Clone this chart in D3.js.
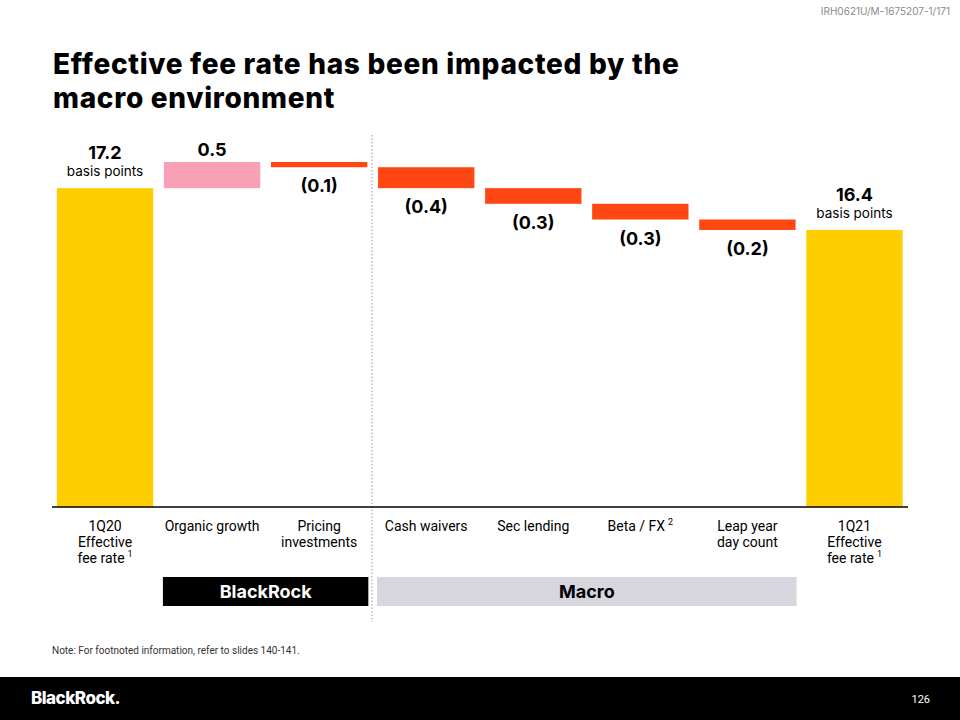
<!DOCTYPE html>
<html>
<head>
<meta charset="utf-8">
<script src="https://cdn.jsdelivr.net/npm/d3@7"></script>
<style>
  body { margin: 0; background: #fff; }
  svg { display: block; }
</style>
</head>
<body>
<div id="chart"></div>
<script>
// waterfall data
var categories = [
  ["1Q20", "Effective", "fee rate"],
  ["Organic growth"],
  ["Pricing", "investments"],
  ["Cash waivers"],
  ["Sec lending"],
  ["Beta / FX"],
  ["Leap year", "day count"],
  ["1Q21", "Effective", "fee rate"]
];
var footnotes = ["1", "", "", "", "", "2", "", "1"];
var values = [17.2, 0.5, -0.1, -0.4, -0.3, -0.3, -0.2, 16.4];
var kinds = ["total", "up", "down", "down", "down", "down", "down", "total"];
var valueLabels = ["17.2", "0.5", "(0.1)", "(0.4)", "(0.3)", "(0.3)", "(0.2)", "16.4"];
var groups = ["BlackRock", "Macro"];
var groupSpan = [[1, 2], [3, 6]];

var svgWidth = 960, svgHeight = 720;
var baseY = 507;

var colors = { total: "#FFCE00", up: "#F9A0B7", down: "#FF4713" };

var svg = d3.select("#chart").append("svg")
  .attr("width", svgWidth)
  .attr("height", svgHeight);

// running totals
var bars = [];
var running = 0;
values.forEach(function(v, i) {
  if (kinds[i] == "total") {
    bars.push({ i: i, y0: 11.1, y1: v });
    running = v;
  } else {
    bars.push({ i: i, y0: running, y1: running + v });
    running = running + v;
  }
});

var x = d3.scaleBand()
  .domain(d3.range(categories.length))
  .range([51.5, 908])
  .paddingInner(0.1)
  .paddingOuter(0.05);

var y = d3.scaleLinear()
  .domain([11.1, 17.7])
  .range([baseY, 162]);

var font = "Inter, 'Noto Sans', sans-serif";
var narrow = "'Liberation Sans Narrow', 'Roboto', sans-serif";

// header code
svg.append("text")
  .attr("x", 950).attr("y", 15)
  .attr("text-anchor", "end")
  .attr("font-family", font)
  .attr("font-size", 10)
  .attr("fill", "#8a8a8a")
  .text("IRH0621U/M-1675207-1/171");

// title
var title = svg.append("text")
  .attr("font-family", font)
  .attr("font-weight", 800)
  .attr("font-size", 28)
  .attr("letter-spacing", 0.7)
  .attr("fill", "#000");
title.append("tspan").attr("x", 53).attr("y", 74).text("Effective fee rate has been impacted by the");
title.append("tspan").attr("x", 53).attr("y", 108).text("macro environment");

// divider
svg.append("line")
  .attr("x1", 372).attr("x2", 372)
  .attr("y1", 135).attr("y2", 622)
  .attr("stroke", "#999")
  .attr("stroke-width", 1)
  .attr("stroke-dasharray", "1.5,2");

// bars
svg.selectAll("rect.bar")
  .data(bars)
  .enter().append("rect")
  .attr("class", "bar")
  .attr("x", function(d) { return x(d.i); })
  .attr("width", x.bandwidth())
  .attr("y", function(d) { return y(Math.max(d.y0, d.y1)); })
  .attr("height", function(d) { return Math.abs(y(d.y0) - y(d.y1)); })
  .attr("fill", function(d) { return colors[kinds[d.i]]; });

// baseline
svg.append("line")
  .attr("x1", 52).attr("x2", 908)
  .attr("y1", baseY).attr("y2", baseY)
  .attr("stroke", "#000")
  .attr("stroke-width", 1.5);

// value labels
bars.forEach(function(d) {
  var cx = x(d.i) + x.bandwidth() / 2;
  var top = y(Math.max(d.y0, d.y1));
  var bottom = y(Math.min(d.y0, d.y1));
  var k = kinds[d.i];
  if (k == "total") {
    svg.append("text")
      .attr("x", cx).attr("y", top - 29)
      .attr("text-anchor", "middle")
      .attr("font-family", font).attr("font-weight", 700).attr("font-size", 18)
      .text(valueLabels[d.i]);
    svg.append("text")
      .attr("x", cx).attr("y", top - 12)
      .attr("text-anchor", "middle")
      .attr("font-family", font).attr("font-size", 13.5)
      .text("basis points");
  } else if (k == "up") {
    svg.append("text")
      .attr("x", cx).attr("y", top - 6)
      .attr("text-anchor", "middle")
      .attr("font-family", font).attr("font-weight", 700).attr("font-size", 18)
      .text(valueLabels[d.i]);
  } else {
    svg.append("text")
      .attr("x", cx).attr("y", bottom + 25)
      .attr("text-anchor", "middle")
      .attr("font-family", font).attr("font-weight", 700).attr("font-size", 18)
      .text(valueLabels[d.i]);
  }
});

// category labels
categories.forEach(function(lines, i) {
  var cx = x(i) + x.bandwidth() / 2;
  var t = svg.append("text")
    .attr("text-anchor", "middle")
    .attr("font-family", narrow)
    .attr("font-size", 14)
    .attr("fill", "#000");
  lines.forEach(function(l, j) {
    var ts = t.append("tspan").attr("x", cx).attr("y", 531 + j * 16).text(l);
    if (j == lines.length - 1 && footnotes[i]) {
      ts.append("tspan").attr("dx", 3).attr("dy", -6).attr("font-size", 9).text(footnotes[i]);
    }
  });
});

// group boxes
var groupFill = ["#000", "#D7D6DE"];
var groupText = ["#fff", "#000"];
groups.forEach(function(g, i) {
  var x0 = x(groupSpan[i][0]) - 1;
  var x1 = x(groupSpan[i][1]) + x.bandwidth() + 1;
  svg.append("rect")
    .attr("x", x0).attr("y", 577)
    .attr("width", x1 - x0).attr("height", 29)
    .attr("fill", groupFill[i]);
  svg.append("text")
    .attr("x", (x0 + x1) / 2).attr("y", 598)
    .attr("text-anchor", "middle")
    .attr("font-family", font).attr("font-weight", 700).attr("font-size", 18)
    .attr("fill", groupText[i])
    .text(g);
});

// note
svg.append("text")
  .attr("x", 52).attr("y", 654)
  .attr("font-family", narrow)
  .attr("font-size", 10)
  .attr("fill", "#333")
  .text("Note: For footnoted information, refer to slides 140-141.");

// footer
svg.append("rect")
  .attr("x", 0).attr("y", 677)
  .attr("width", svgWidth).attr("height", 43)
  .attr("fill", "#000");
svg.append("text")
  .attr("x", 31).attr("y", 704)
  .attr("font-family", font).attr("font-weight", 800).attr("font-size", 17)
  .attr("letter-spacing", -0.5)
  .attr("fill", "#fff")
  .text("BlackRock.");
svg.append("text")
  .attr("x", 930).attr("y", 703)
  .attr("text-anchor", "end")
  .attr("font-family", narrow)
  .attr("font-size", 11)
  .attr("fill", "#fff")
  .text("126");
</script>
</body>
</html>
